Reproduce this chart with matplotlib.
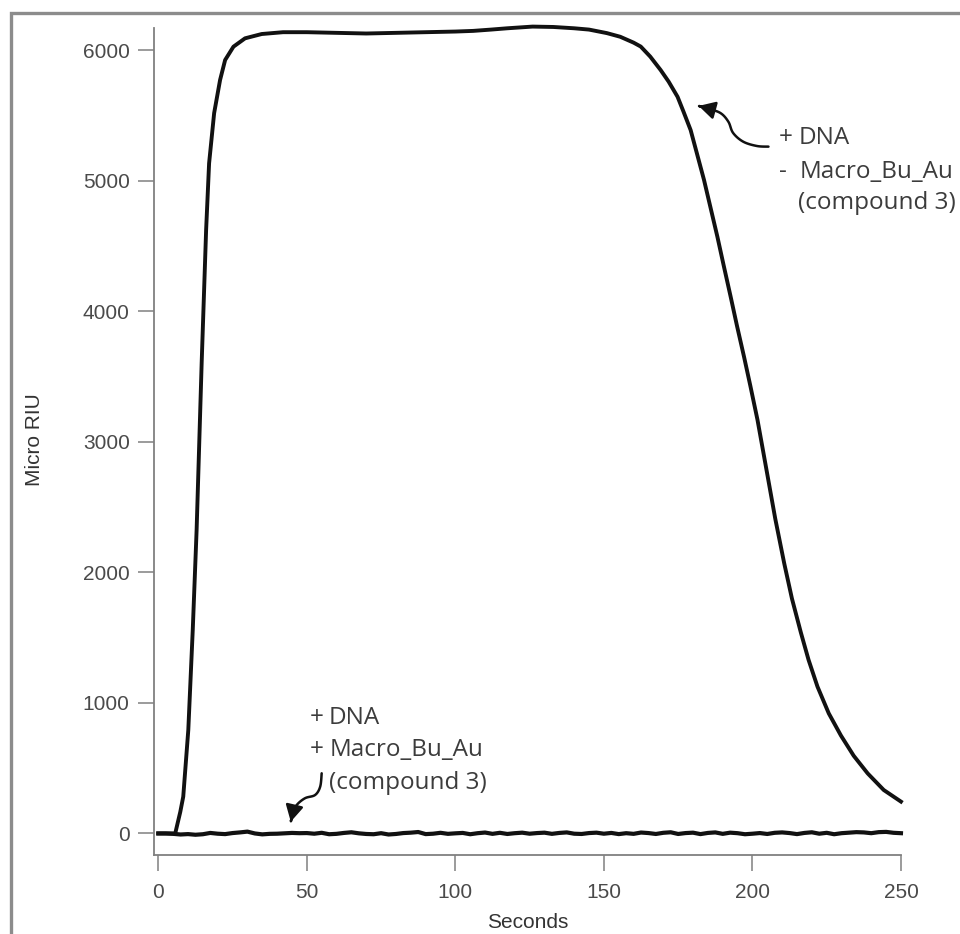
import numpy as np
import matplotlib.pyplot as plt
from matplotlib.patches import FancyArrowPatch, Rectangle
from matplotlib.path import Path

# main sensorgram: + DNA, - Macro_Bu_Au
t_main = [0, 5.7, 6.5, 7.4, 8.4, 10.1, 11.6, 12.9, 14.6, 16.1, 17.1, 18.8, 20.8,
          22.5, 25.3, 29.2, 34.8, 42, 50, 60, 70, 80, 90, 100, 106, 112, 117.5,
          126, 133, 140, 145, 151, 155.5, 160, 162.4, 165.6, 169.1, 171.8, 174.8,
          176.8, 179.2, 181.3, 183.7, 188.2, 190.3, 192.7, 194.8, 197.2, 199.3,
          201.7, 205.1, 207.7, 210.7, 213.3, 216.3, 218.9, 221.9, 225.7, 229.8,
          234.1, 238.8, 244.2, 250]
v_main = [0, 0, 78, 165, 282, 793, 1560, 2325, 3605, 4625, 5135, 5520, 5774,
          5927, 6029, 6093, 6126, 6140, 6140, 6135, 6130, 6135, 6140, 6145, 6150,
          6160, 6170, 6183, 6180, 6170, 6160, 6133, 6105, 6060, 6030, 5953, 5850,
          5761, 5645, 5531, 5390, 5212, 5008, 4573, 4355, 4110, 3890, 3650, 3430,
          3170, 2740, 2410, 2070, 1800, 1540, 1330, 1125, 920, 750, 595, 460, 333,
          244]

# baseline: + DNA, + Macro_Bu_Au
t_base = [0, 2.5, 5, 7.5, 10, 12.5, 15, 17.5, 20, 22.5, 25, 27.5, 30, 32.5, 35,
          37.5, 40, 42.5, 45, 47.5, 50, 52.5, 55, 57.5, 60, 62.5, 65, 67.5, 70,
          72.5, 75, 77.5, 80, 82.5, 85, 87.5, 90, 92.5, 95, 97.5, 100, 102.5, 105,
          107.5, 110, 112.5, 115, 117.5, 120, 122.5, 125, 127.5, 130, 132.5, 135,
          137.5, 140, 142.5, 145, 147.5, 150, 152.5, 155, 157.5, 160, 162.5, 165,
          167.5, 170, 172.5, 175, 177.5, 180, 182.5, 185, 187.5, 190, 192.5, 195,
          197.5, 200, 202.5, 205, 207.5, 210, 212.5, 215, 217.5, 220, 222.5, 225,
          227.5, 230, 232.5, 235, 237.5, 240, 242.5, 245, 247.5, 250]
v_base = [0, 0, -3, -8, -5, -10, -6, 4, -2, -5, 3, 8, 14, 0, -7, -3, -2, 1, 4,
          2, 3, -2, 5, -6, -3, 4, 9, 1, -4, -6, 2, -8, -4, 3, 6, 11, -5, -2, 5,
          -3, 1, 4, -6, 2, 7, -3, 5, -4, 2, 6, -2, 3, 6, -3, 4, 8, -2, -4, 3, 6,
          -2, 4, -5, 2, -3, 7, 3, -4, 5, 9, -4, 3, 6, -5, 4, 8, -3, 6, 2, -6,
          -2, 3, -4, 5, 8, 3, -5, 4, 9, -2, 5, -6, 2, 6, 10, 8, 2, 10, 12, 5, 2]

x_ticks = [0, 50, 100, 150, 200, 250]
y_ticks = [0, 1000, 2000, 3000, 4000, 5000, 6000]

# arrow guide points (data coords)
arrow_top = [(205.4, 5263), (201.5, 5268), (196.9, 5301), (193.5, 5368),
             (191.9, 5454), (189.2, 5521), (184.7, 5557), (181.9, 5575)]
arrow_bot = [(55.0, 461), (54.5, 359), (52.8, 295), (49.4, 270),
             (46.6, 218), (45.3, 155), (44.6, 90)]


def smooth(pts, n=12):
    p = np.array(pts, dtype=float)
    p = np.vstack([p[0], p, p[-1]])
    out = []
    for i in range(1, len(p) - 2):
        p0, p1, p2, p3 = p[i - 1], p[i], p[i + 1], p[i + 2]
        for s in np.linspace(0, 1, n, endpoint=False):
            out.append(0.5 * (2 * p1 + (-p0 + p2) * s
                              + (2 * p0 - 5 * p1 + 4 * p2 - p3) * s ** 2
                              + (-p0 + 3 * p1 - 3 * p2 + p3) * s ** 3))
    out.append(p[-2])
    return np.array(out)


tick_font = 'Liberation Sans'
note_font = 'Open Sans'
grey = '#808080'

fig = plt.figure(figsize=(9.6, 9.34), dpi=100)
fig.patches.append(Rectangle((0.0115, -0.1), 1.2, 1.0866, transform=fig.transFigure,
                             fill=False, edgecolor='#8c8c8c', lw=2.4))

ax = fig.add_axes([0.1604, 0.0846, 0.7781, 0.8854])
ax.plot(t_base, v_base, color='#111111', lw=3.0, clip_on=False,
        solid_joinstyle='round')
ax.plot(t_main, v_main, color='#111111', lw=2.8, clip_on=False,
        solid_joinstyle='round')

ax.set_xlim(-1.45, 250)
ax.set_ylim(-165, 6172)
ax.set_xticks(x_ticks)
ax.set_yticks(y_ticks)
for side in ['top', 'right']:
    ax.spines[side].set_visible(False)
for side in ['left', 'bottom']:
    ax.spines[side].set_color(grey)
    ax.spines[side].set_linewidth(1.3)
ax.tick_params(axis='both', direction='out', length=11.5, width=1.1, color=grey,
               labelcolor='#4a4a4a', labelsize=15)
ax.tick_params(axis='x', pad=9)
ax.tick_params(axis='y', pad=6)
for lab in ax.get_xticklabels() + ax.get_yticklabels():
    lab.set_fontfamily(tick_font)

fig.text(35 / 960, 1 - 440 / 934, 'Micro RIU', rotation=90, ha='center', va='center',
         fontsize=15, family=tick_font, color='#333333')
fig.text(528 / 960, 1 - 923 / 934, 'Seconds', ha='center', va='center',
         fontsize=15, family=tick_font, color='#333333')

note = dict(fontsize=17.5, family=note_font, color='#3c3c3c', va='center', ha='left')
# upper note
ax.text(208.8, 5330, '+', **note)
ax.text(215.6, 5330, 'DNA', **note)
ax.text(208.8, 5069, '-', **note)
ax.text(215.9, 5069, 'Macro_Bu_Au', **note)
ax.text(215.2, 4831, '(compound 3)', **note)
# lower note
ax.text(51.1, 885, '+', **note)
ax.text(57.5, 885, 'DNA', **note)
ax.text(51.1, 640, '+', **note)
ax.text(57.8, 640, 'Macro_Bu_Au', **note)
ax.text(57.5, 387, '(compound 3)', **note)

for pts in [arrow_top, arrow_bot]:
    arr = FancyArrowPatch(path=Path(smooth(pts)), arrowstyle='-|>,head_length=0.55,head_width=0.3',
                          mutation_scale=18, lw=1.8, color='#111111',
                          transform=ax.transData, clip_on=False)
    ax.add_patch(arr)

fig.savefig('out.png', dpi=100)
